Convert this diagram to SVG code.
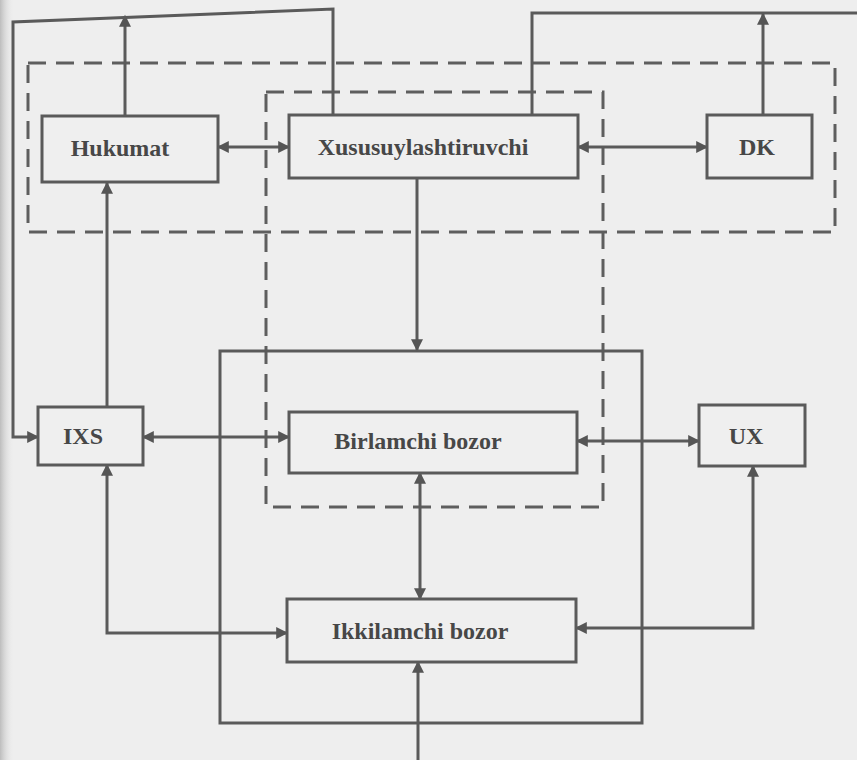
<svg xmlns="http://www.w3.org/2000/svg" width="857" height="760" viewBox="0 0 857 760">
<defs>
<marker id="ah" viewBox="0 0 10 10" refX="9" refY="5" markerWidth="4.3" markerHeight="4" orient="auto-start-reverse" markerUnits="strokeWidth">
<path d="M0,0 L10,5 L0,10 z" fill="#555555"/>
</marker>
<linearGradient id="edge" x1="0" y1="0" x2="1" y2="0">
<stop offset="0" stop-color="#bdbdbd"/>
<stop offset="1" stop-color="#ececec" stop-opacity="0"/>
</linearGradient>
</defs>
<style>
.bg{fill:#eeeeee}
.node rect{fill:#efefef;stroke:#5a5a5a;stroke-width:3}
.node text{font-family:"Liberation Serif","Times New Roman",serif;font-weight:bold;font-size:24px;fill:#474747;text-anchor:middle}
.dash{fill:none;stroke:#5e5e5e;stroke-width:3;stroke-dasharray:18 10}
.frame{fill:none;stroke:#5a5a5a;stroke-width:3}
.conn path{fill:none;stroke:#5a5a5a;stroke-width:3}
.a2{marker-start:url(#ah);marker-end:url(#ah)}
.a1{marker-end:url(#ah)}
</style>
<rect class="bg" x="0" y="0" width="857" height="760"/>
<rect x="0" y="0" width="14" height="760" fill="url(#edge)"/>

<g id="groups">
<rect class="dash" x="28" y="63" width="807" height="169"/>
<rect class="dash" x="266" y="92" width="337" height="415"/>
<rect class="frame" x="220" y="351" width="422" height="372"/>
</g>

<g id="connectors" class="conn">
<path class="a1" d="M125,116 L125,16"/>
<path class="a1" d="M333,115 L333,9 L13,22 L13,437 L38,437"/>
<path d="M532,115 L532,13 L857,13"/>
<path class="a1" d="M763,115 L763,14"/>
<path class="a2" d="M218,147 L289,147"/>
<path class="a2" d="M578,147 L707,147"/>
<path class="a1" d="M417,177 L417,350"/>
<path class="a1" d="M107,407 L107,183"/>
<path class="a2" d="M143,437 L289,437"/>
<path class="a2" d="M577,441 L699,441"/>
<path class="a2" d="M420,473 L420,599"/>
<path class="a2" d="M107,465 L107,633 L287,633"/>
<path class="a2" d="M753,466 L753,628 L576,628"/>
<path class="a1" d="M418,760 L418,662"/>
</g>

<g id="hukumat" class="node">
<rect x="42" y="116" width="176" height="66"/>
<text x="120" y="156">Hukumat</text>
</g>
<g id="xususuylashtiruvchi" class="node">
<rect x="289" y="115" width="289" height="63"/>
<text x="423" y="155">Xususuylashtiruvchi</text>
</g>
<g id="dk" class="node">
<rect x="707" y="115" width="105" height="63"/>
<text x="757" y="155">DK</text>
</g>
<g id="ixs" class="node">
<rect x="38" y="407" width="105" height="58"/>
<text x="83" y="444">IXS</text>
</g>
<g id="birlamchi" class="node">
<rect x="289" y="412" width="288" height="61"/>
<text x="418" y="449">Birlamchi bozor</text>
</g>
<g id="ux" class="node">
<rect x="699" y="405" width="106" height="61"/>
<text x="746" y="444">UX</text>
</g>
<g id="ikkilamchi" class="node">
<rect x="287" y="599" width="289" height="63"/>
<text x="420" y="639">Ikkilamchi bozor</text>
</g>
</svg>
